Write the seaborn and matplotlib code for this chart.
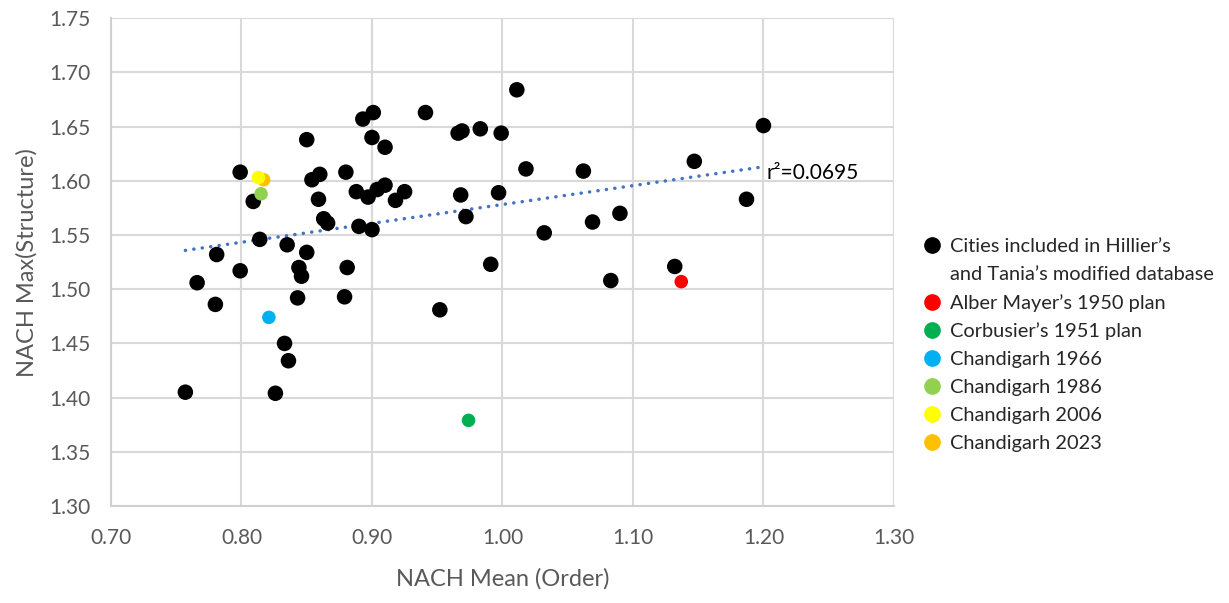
import numpy as np
import pandas as pd
import matplotlib
matplotlib.use("Agg")
import matplotlib.pyplot as plt
import seaborn as sns
from matplotlib.lines import Line2D

# Cities in Hillier's and Tania's modified database (NACH mean, NACH max)
city_x = [0.757, 0.766, 0.780, 0.781, 0.799, 0.799, 0.809, 0.814, 0.826, 0.833,
          0.836, 0.835, 0.843, 0.844, 0.846, 0.850, 0.850, 0.854, 0.860, 0.859,
          0.863, 0.866, 0.880, 0.881, 0.879, 0.888, 0.890, 0.893, 0.901, 0.900,
          0.897, 0.900, 0.904, 0.910, 0.910, 0.918, 0.925, 0.941, 0.952, 0.966,
          0.969, 0.968, 0.972, 0.983, 0.991, 0.997, 0.999, 1.011, 1.018, 1.032,
          1.062, 1.069, 1.083, 1.090, 1.132, 1.147, 1.187, 1.200]
city_y = [1.405, 1.506, 1.486, 1.532, 1.517, 1.608, 1.581, 1.546, 1.404, 1.450,
          1.434, 1.541, 1.492, 1.520, 1.512, 1.534, 1.638, 1.601, 1.606, 1.583,
          1.565, 1.561, 1.608, 1.520, 1.493, 1.590, 1.558, 1.657, 1.663, 1.640,
          1.585, 1.555, 1.592, 1.596, 1.631, 1.582, 1.590, 1.663, 1.481, 1.644,
          1.646, 1.587, 1.567, 1.648, 1.523, 1.589, 1.644, 1.684, 1.611, 1.552,
          1.609, 1.562, 1.508, 1.570, 1.521, 1.618, 1.583, 1.651]

# Chandigarh plans / years (drawn in this order, yellow on top of orange)
plan_names = ["Alber Mayer’s 1950 plan", "Corbusier’s 1951 plan", "Chandigarh 1966",
              "Chandigarh 1986", "Chandigarh 2023", "Chandigarh 2006"]
plan_x = [1.137, 0.974, 0.821, 0.815, 0.817, 0.813]
plan_y = [1.507, 1.379, 1.474, 1.588, 1.601, 1.603]

legend_order = ["Alber Mayer’s 1950 plan", "Corbusier’s 1951 plan", "Chandigarh 1966",
                "Chandigarh 1986", "Chandigarh 2006", "Chandigarh 2023"]
plan_colors = {"Alber Mayer’s 1950 plan": "#FF0000", "Corbusier’s 1951 plan": "#00B050",
               "Chandigarh 1966": "#00B0F0", "Chandigarh 1986": "#92D050",
               "Chandigarh 2006": "#FFFF00", "Chandigarh 2023": "#FFC000"}

cities = pd.DataFrame({"mean": city_x, "max": city_y})
plans = pd.DataFrame({"mean": plan_x, "max": plan_y, "plan": plan_names})
everything = pd.concat([cities, plans[["mean", "max"]]], ignore_index=True)

sns.set_style("white")
plt.rcParams["font.family"] = ["Lato", "DejaVu Sans"]

fig, ax = plt.subplots(figsize=(12.29, 6.03), dpi=100)
fig.subplots_adjust(left=0.0903, right=0.7274, bottom=0.1609, top=0.9697)

# linear trend over all points
sns.regplot(data=everything, x="mean", y="max", ax=ax, scatter=False, ci=None, truncate=True,
            line_kws=dict(color="#4472C4", lw=2.5, linestyle=(0, (0.05, 2.4)),
                          dash_capstyle="round", zorder=2))
sns.scatterplot(data=cities, x="mean", y="max", ax=ax, color="black", s=125,
                edgecolor="none", zorder=3)
sns.scatterplot(data=plans, x="mean", y="max", hue="plan", palette=plan_colors, ax=ax,
                s=95, edgecolor="none", legend=False, zorder=4)

ax.set_xlim(0.70, 1.30)
ax.set_ylim(1.30, 1.75)
ax.set_xticks(np.arange(0.70, 1.301, 0.10))
ax.set_yticks(np.arange(1.30, 1.751, 0.05))
ax.xaxis.set_major_formatter(matplotlib.ticker.FormatStrFormatter("%.2f"))
ax.yaxis.set_major_formatter(matplotlib.ticker.FormatStrFormatter("%.2f"))
ax.grid(True, color="#D9D9D9", lw=1.5)
ax.set_axisbelow(True)
for side in ["top", "right"]:
    ax.spines[side].set_visible(False)
for side in ["left", "bottom"]:
    ax.spines[side].set_color("#D0D0D0")
    ax.spines[side].set_linewidth(1.5)
ax.tick_params(axis="both", colors="#595959", labelsize=15, length=5, width=1.2,
               direction="out", color="#D0D0D0")
ax.tick_params(axis="y", pad=10)
ax.tick_params(axis="x", pad=11)
ax.set_xlabel("NACH Mean (Order)", fontsize=17, color="#595959", labelpad=14)
ax.set_ylabel("NACH Max(Structure)", fontsize=17, color="#595959", labelpad=8)

ax.text(1.202, 1.607, "r²=0.0695", fontsize=15, color="black", va="center", ha="left")

handles = [Line2D([], [], marker="o", ls="", color="black", markersize=11)]
labels = ["Cities included in Hillier’s"]
handles.append(Line2D([], [], marker="", ls=""))
labels.append("and Tania’s modified database")
for name in legend_order:
    handles.append(Line2D([], [], marker="o", ls="", color=plan_colors[name], markersize=11))
    labels.append(name)
fig.legend(handles, labels, loc="upper left", bbox_to_anchor=(0.745, 0.618), frameon=False,
           fontsize=14.4, handlelength=0.8, handletextpad=0.5, labelspacing=0.54,
           borderaxespad=0)

fig.savefig("out.png", dpi=100)
